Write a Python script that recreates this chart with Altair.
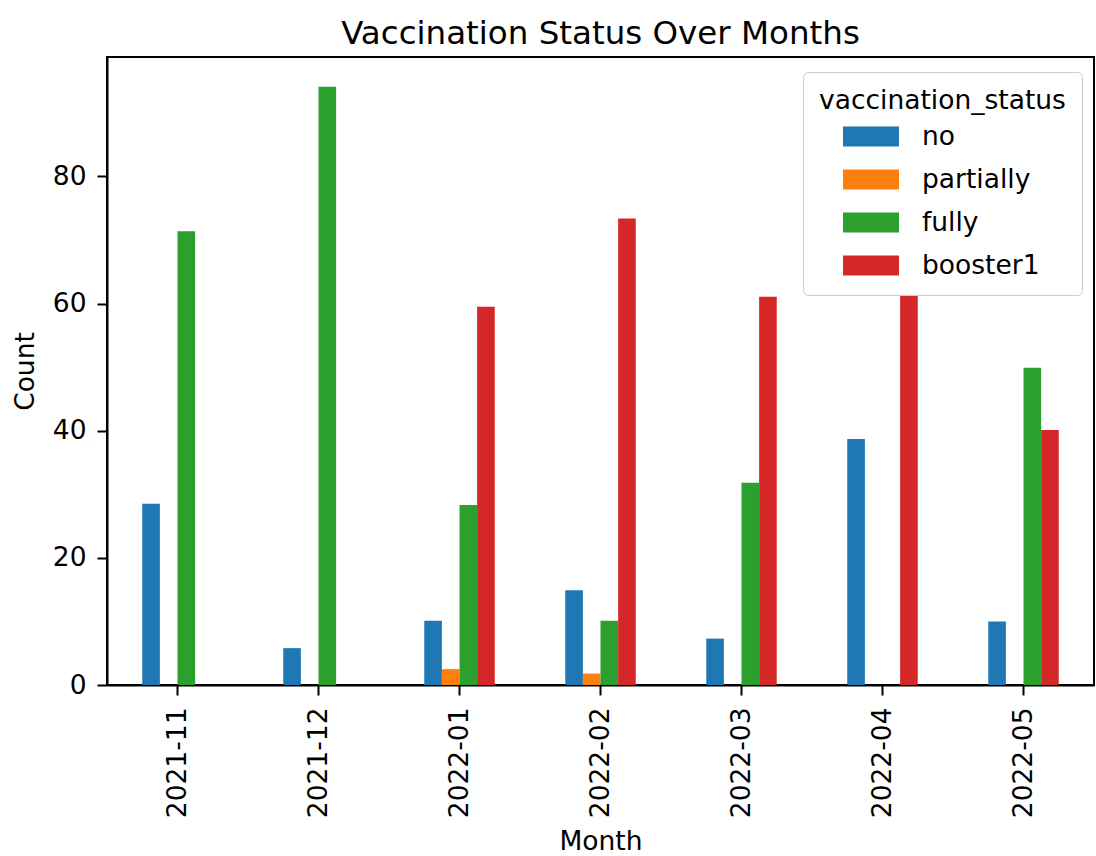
import altair as alt
import pandas as pd

months = ["2021-11", "2021-12", "2022-01", "2022-02", "2022-03", "2022-04", "2022-05"]
statuses = ["no", "partially", "fully", "booster1"]
colors = ["#1f77b4", "#ff7f0e", "#2ca02c", "#d62728"]

# None = no bar drawn
no_vals = [28.5, 5.8, 10.1, 14.9, 7.3, 38.7, 10.0]
partially_vals = [None, None, 2.5, 1.8, None, None, None]
fully_vals = [71.4, 94.1, 28.3, 10.1, 31.8, None, 49.9]
booster1_vals = [None, None, 59.5, 73.4, 61.1, 62.0, 40.1]

series = {"no": no_vals, "partially": partially_vals, "fully": fully_vals, "booster1": booster1_vals}
rows = []
for s in statuses:
    for m, v in zip(months, series[s]):
        if v is not None:
            rows.append({"Month": m, "vaccination_status": s, "Count": v})
df = pd.DataFrame(rows)

FONT = "DejaVu Sans"

bars = alt.Chart(df).mark_bar(stroke=None).encode(
    x=alt.X("Month:N", sort=months,
            scale=alt.Scale(domain=months, paddingInner=0.5, paddingOuter=0.25),
            axis=alt.Axis(title="Month", labelAngle=270, labelFontSize=26.5, titleFontSize=26.5,
                          tickSize=10, tickWidth=2, tickColor="black", domainColor="black", domainWidth=2,
                          labelPadding=12, labelColor="black", titleColor="black", titleFontWeight="normal",
                          titleY=164, titleBaseline="alphabetic", grid=False, labelFont=FONT, titleFont=FONT)),
    xOffset=alt.XOffset("vaccination_status:N", sort=statuses,
                        scale=alt.Scale(domain=statuses, paddingInner=0, paddingOuter=0)),
    y=alt.Y("Count:Q", scale=alt.Scale(domain=[0, 98.8], nice=False, zero=True),
            axis=alt.Axis(title="Count", values=[0, 20, 40, 60, 80], labelFontSize=26.5, titleFontSize=26.5,
                          tickSize=10, tickWidth=2, tickColor="black", domainColor="black", domainWidth=2,
                          labelPadding=11, labelColor="black", titleColor="black", titleFontWeight="normal",
                          titleX=-74, titleY=314, titleAngle=270, titleBaseline="alphabetic",
                          titleAlign="center", grid=False, labelFont=FONT, titleFont=FONT)),
    color=alt.Color("vaccination_status:N", sort=statuses,
                    scale=alt.Scale(domain=statuses, range=colors),
                    legend=alt.Legend(title="vaccination_status", orient="none", legendX=696, legendY=15,
                                      padding=16, fillColor="white", strokeColor="#cccccc",
                                      cornerRadius=5, titleFontSize=26.5, labelFontSize=26.5,
                                      titleFont=FONT, labelFont=FONT, titleFontWeight="normal",
                                      titleColor="black", labelColor="black", titleLimit=500, labelLimit=400,
                                      symbolType="M-2,-0.71H2V0.71H-2Z", symbolSize=784,
                                      symbolStrokeWidth=0, symbolOffset=38, labelOffset=37,
                                      rowPadding=15, titlePadding=8)),
).properties(
    width=987, height=628,
    title=alt.TitleParams("Vaccination Status Over Months", fontSize=32.5, font=FONT,
                          fontWeight="normal", color="black", anchor="middle",
                          baseline="alphabetic", offset=-19),
)

chart = bars.properties(
    autosize=alt.AutoSizeParams(type="none"),
    padding={"left": 107, "top": 57, "right": 2, "bottom": 171},
).configure(background="white").configure_view(stroke="black", strokeWidth=2)

chart.save("out.html", embed_options={"renderer": "svg", "actions": False})
